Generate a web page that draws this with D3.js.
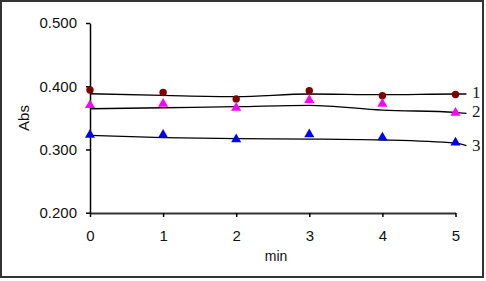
<!DOCTYPE html>
<html><head><meta charset="utf-8">
<script src="https://cdn.jsdelivr.net/npm/d3@7"></script>
<style>
html,body{margin:0;padding:0;background:#fff;}
svg{display:block;}
</style></head>
<body>
<svg id="chart" width="486" height="281"></svg>
<script>
// ---- data ----
const minutes = [0, 1, 2, 3, 4, 5];
const series1 = [0.394, 0.390, 0.380, 0.393, 0.385, 0.387];
const series2 = [0.370, 0.372, 0.366, 0.378, 0.372, 0.358];
const series3 = [0.323, 0.323, 0.316, 0.324, 0.319, 0.311];
const trendX = [0, 1, 2, 3, 4, 5, 5.15];
const trend1 = [0.3881, 0.3855, 0.3836, 0.3877, 0.3866, 0.3877, 0.3877];
const trend2 = [0.3644, 0.3660, 0.3676, 0.3698, 0.3623, 0.3587, 0.3570];
const trend3 = [0.3223, 0.3188, 0.3170, 0.3165, 0.3150, 0.3100, 0.3062];
const seriesLabels = ["1", "2", "3"];
const yTicks = [0.2, 0.3, 0.4, 0.5];
const xTicks = [0, 1, 2, 3, 4, 5];

const svg = d3.select("#chart");
svg.append("rect").attr("x", 1).attr("y", 1).attr("width", 482).attr("height", 276)
  .attr("fill", "#fff").attr("stroke", "#333").attr("stroke-width", 2);

const x = d3.scaleLinear().domain([0, 5]).range([90, 455.5]);
const y = d3.scaleLinear().domain([0.2, 0.5]).range([212.7, 23]);

// y axis
const gy = svg.append("g").attr("transform", "translate(90,0)")
  .call(d3.axisLeft(y).tickValues(yTicks).tickFormat(d3.format(".3f")).tickSize(4).tickSizeOuter(0).tickPadding(9));
gy.select(".domain").attr("stroke", "#000").attr("stroke-width", 1.5);
gy.selectAll(".tick line").attr("stroke", "#000").attr("stroke-width", 1.5);
gy.selectAll(".tick text").attr("font-family", "Arial, 'Liberation Sans', sans-serif")
  .attr("font-size", 15).attr("fill", "#111");

// x axis
const gx = svg.append("g").attr("transform", "translate(0,213)")
  .call(d3.axisBottom(x).tickValues(xTicks).tickFormat(d3.format("d")).tickSize(4).tickSizeOuter(0).tickPadding(13));
gx.select(".domain").attr("stroke", "#333").attr("stroke-width", 2);
gx.selectAll(".tick line").attr("stroke", "#000").attr("stroke-width", 1.5);
gx.selectAll(".tick text").attr("font-family", "Arial, 'Liberation Sans', sans-serif")
  .attr("font-size", 15).attr("fill", "#111");

// axis titles
svg.append("text").attr("x", 276).attr("y", 261).attr("text-anchor", "middle")
  .attr("font-family", "Arial, 'Liberation Sans', sans-serif").attr("font-size", 14).attr("fill", "#111").text("min");
svg.append("text").attr("transform", "translate(29,118) rotate(-90)").attr("text-anchor", "middle")
  .attr("font-family", "Arial, 'Liberation Sans', sans-serif").attr("font-size", 15).attr("fill", "#111").text("Abs");

// trend lines
const line = d3.line().x(d => x(d[0])).y(d => y(d[1])).curve(d3.curveMonotoneX);
[trend1, trend2, trend3].forEach(t => {
  svg.append("path").datum(trendX.map((v, i) => [v, t[i]]))
    .attr("d", line).attr("fill", "none").attr("stroke", "#000").attr("stroke-width", 1.3);
});

// markers
svg.append("g").selectAll("circle").data(minutes.map((m, i) => [m, series1[i]])).join("circle")
  .attr("cx", d => x(d[0])).attr("cy", d => y(d[1])).attr("r", 3.7).attr("fill", "#800000");
const tri = d3.symbol().type(d3.symbolTriangle).size(44);
[[series2, "#ff00ff"], [series3, "#0000ff"]].forEach(([s, c]) => {
  svg.append("g").selectAll("path").data(minutes.map((m, i) => [m, s[i]])).join("path")
    .attr("d", tri).attr("transform", d => `translate(${x(d[0])},${y(d[1])})`).attr("fill", c);
});

// series labels
const labelY = [97.5, 117, 150.5];
seriesLabels.forEach((l, i) => {
  svg.append("text").attr("x", 472).attr("y", labelY[i])
    .attr("font-family", "'Times New Roman', 'Liberation Serif', serif").attr("font-size", 17)
    .attr("fill", "#1a1a1a").text(l);
});
</script>
</body></html>
